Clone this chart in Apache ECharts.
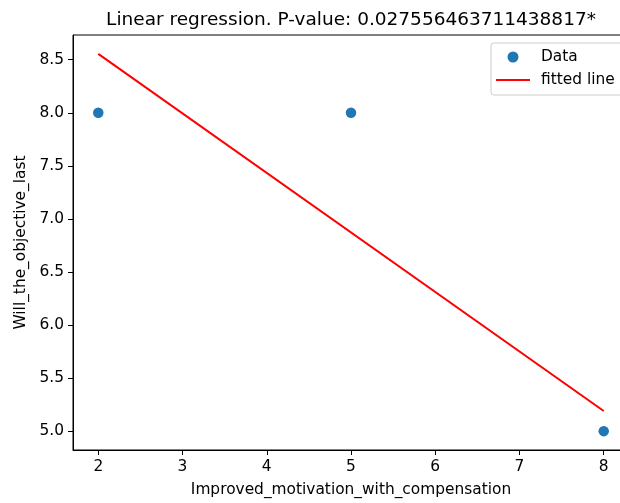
<!DOCTYPE html>
<html>
<head>
<meta charset="utf-8">
<script src="https://cdn.jsdelivr.net/npm/echarts@6/dist/echarts.min.js"></script>
<style>
  html, body { margin: 0; padding: 0; background: #fff; }
  #chart { width: 620px; height: 503px; }
</style>
</head>
<body>
<div id="chart"></div>
<script>
const titleText = 'Linear regression. P-value: 0.027556463711438817*';
const xName = 'Improved_motivation_with_compensation';
const yName = 'Will_the_objective_last';
const dataX = [2, 5, 8];
const dataY = [8, 8, 5];
const fitX = [2, 8];
const fitY = [8.555, 5.19];
const xTicks = [2, 3, 4, 5, 6, 7, 8];
const yTicks = [5.0, 5.5, 6.0, 6.5, 7.0, 7.5, 8.0, 8.5];

function padRange(vals) {
  const lo = Math.min(...vals), hi = Math.max(...vals);
  const m = (hi - lo) * 0.05;
  return [lo - m, hi + m];
}
const xr = padRange(dataX.concat(fitX));
const yr = padRange(dataY.concat(fitY));

const FONT = 'DejaVu Sans';
const chart = echarts.init(document.getElementById('chart'), null, { renderer: 'canvas' });
chart.setOption({
  animation: false,
  backgroundColor: '#ffffff',
  textStyle: { fontFamily: FONT },
  title: {
    text: titleText,
    left: 351,
    top: 11,
    padding: 0,
    textAlign: 'center',
    textStyle: { fontFamily: FONT, fontSize: 18.5, fontWeight: 'normal', color: '#000' }
  },
  grid: {
    left: 73, top: 35, width: 556, height: 415,
    outerBoundsMode: 'none',
    show: true, borderColor: '#000', borderWidth: 1, backgroundColor: 'transparent',
    containLabel: false
  },
  legend: {
    orient: 'vertical',
    left: 491,
    top: 43,
    padding: [6, 12, 7, 5],
    itemWidth: 34,
    itemHeight: 11,
    itemGap: 7,
    symbolKeepAspect: true,
    borderColor: '#cccccc',
    borderWidth: 1,
    borderRadius: 3,
    backgroundColor: 'rgba(255,255,255,0.8)',
    textStyle: { fontFamily: FONT, fontSize: 15.4, color: '#000', lineHeight: 16, padding: [0, 0, 0, 6] },
    data: [
      { name: 'Data', icon: 'circle' },
      { name: 'fitted line', icon: 'path://M0,0H34V2H0Z', itemStyle: { color: '#ff0000' } }
    ]
  },
  xAxis: {
    type: 'value',
    min: xr[0], max: xr[1],
    name: xName,
    nameLocation: 'middle',
    nameGap: 32,
    nameTextStyle: { fontFamily: FONT, fontSize: 15.4, color: '#000' },
    axisLine: { show: true, onZero: false, lineStyle: { color: '#000', width: 1 } },
    axisTick: { show: true, length: 5, lineStyle: { color: '#000', width: 1 }, customValues: xTicks },
    axisLabel: { show: true, margin: 9, fontFamily: FONT, fontSize: 15.4, color: '#000', customValues: xTicks,
      formatter: v => String(Math.round(v)) },
    splitLine: { show: false }
  },
  yAxis: {
    type: 'value',
    min: yr[0], max: yr[1],
    name: yName,
    nameLocation: 'middle',
    nameGap: 43,
    nameRotate: 90,
    nameTextStyle: { fontFamily: FONT, fontSize: 15.4, color: '#000' },
    axisLine: { show: true, onZero: false, lineStyle: { color: '#000', width: 1 } },
    axisTick: { show: true, length: 5, lineStyle: { color: '#000', width: 1 }, customValues: yTicks },
    axisLabel: { show: true, margin: 9, fontFamily: FONT, fontSize: 15.4, color: '#000', customValues: yTicks,
      formatter: v => Number(v).toFixed(1) },
    splitLine: { show: false }
  },
  series: [
    {
      name: 'Data',
      type: 'scatter',
      symbol: 'circle',
      symbolSize: 10.5,
      itemStyle: { color: '#1f77b4', opacity: 1 },
      data: dataX.map((x, i) => [x, dataY[i]]),
      z: 3
    },
    {
      name: 'fitted line',
      type: 'line',
      symbol: 'none',
      showSymbol: false,
      lineStyle: { color: '#ff0000', width: 2 },
      itemStyle: { color: '#ff0000' },
      data: fitX.map((x, i) => [x, fitY[i]]),
      z: 2
    }
  ]
});
</script>
</body>
</html>
